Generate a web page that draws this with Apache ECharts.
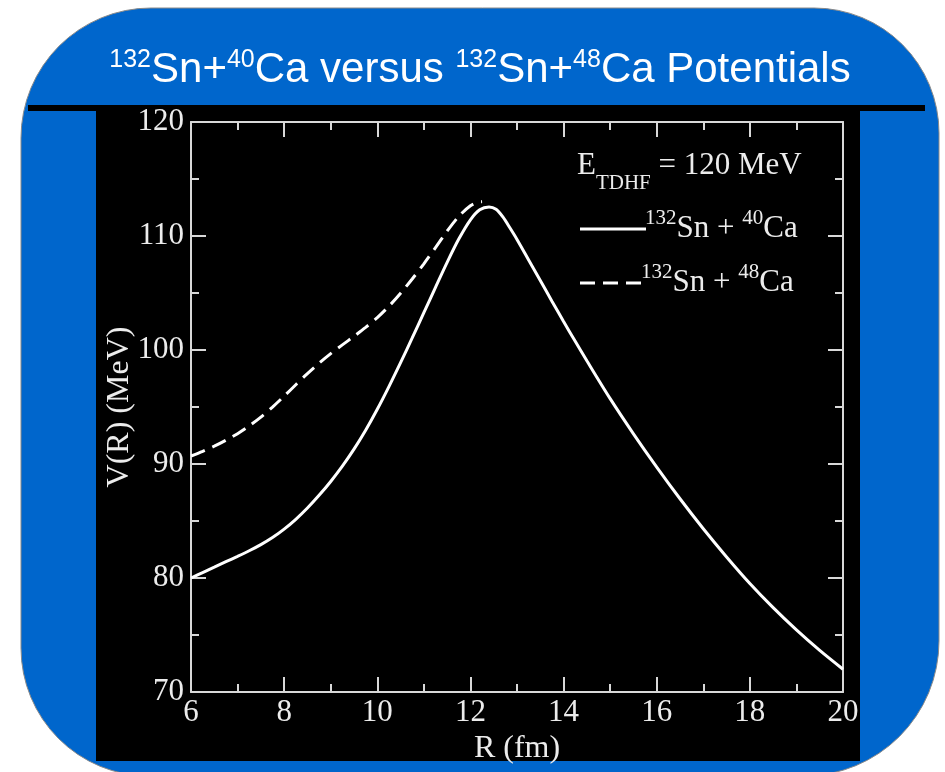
<!DOCTYPE html>
<html>
<head>
<meta charset="utf-8">
<script src="https://cdn.jsdelivr.net/npm/echarts@6/dist/echarts.min.js"></script>
<style>
html,body{margin:0;padding:0;background:#fff;}
#chart{width:945px;height:772px;}
</style>
</head>
<body>
<div id="chart"></div>
<script>
// ---- data ----
const r40 = [6, 6.25, 6.5, 6.75, 7, 7.25, 7.5, 7.75, 8, 8.25, 8.5, 8.75, 9, 9.25, 9.5, 9.75, 10, 10.25, 10.5, 10.75, 11, 11.25, 11.5, 11.75, 12, 12.2, 12.4, 12.55, 12.7, 12.85, 13.0, 13.25, 13.5, 13.75, 14, 14.25, 14.5, 15, 15.5, 16, 16.5, 17, 17.5, 18, 18.5, 19, 19.5, 20];
const v40 = [80.0, 80.48, 80.95, 81.43, 81.9, 82.39, 82.93, 83.55, 84.29, 85.15, 86.14, 87.25, 88.47, 89.81, 91.3, 92.96, 94.8, 96.79, 98.89, 101.06, 103.27, 105.5, 107.69, 109.73, 111.42, 112.3, 112.55, 112.34, 111.65, 110.7, 109.7, 107.9, 106.1, 104.28, 102.5, 100.76, 99.05, 95.73, 92.65, 89.73, 86.95, 84.32, 81.85, 79.52, 77.4, 75.45, 73.65, 72.0];
const r48 = [6, 6.25, 6.5, 6.75, 7, 7.25, 7.5, 7.75, 8, 8.25, 8.5, 8.75, 9, 9.25, 9.5, 9.75, 10, 10.25, 10.5, 10.75, 11, 11.25, 11.5, 11.75, 12, 12.15, 12.25];
const v48 = [90.7, 91.11, 91.56, 92.08, 92.66, 93.34, 94.11, 94.99, 95.95, 96.95, 97.93, 98.84, 99.68, 100.45, 101.2, 101.98, 102.84, 103.84, 104.98, 106.23, 107.56, 108.98, 110.43, 111.73, 112.65, 112.95, 113.0];
const xTicks = [6, 8, 10, 12, 14, 16, 18, 20];
const yTicks = [70, 80, 90, 100, 110, 120];
const seriesNames = ['132Sn + 40Ca', '132Sn + 48Ca'];

const pair = (xs, ys) => xs.map((x, i) => [x, ys[i]]);

const serif = 'Liberation Serif';
const gray = '#d8d8d8';
const txt = '#ececec';

const chart = echarts.init(document.getElementById('chart'), null, {renderer: 'canvas'});

const axisCommon = {
  type: 'value',
  axisLine: {show: true, lineStyle: {color: gray, width: 2}},
  axisTick: {show: true, inside: true, length: 15, lineStyle: {color: gray, width: 2}},
  minorTick: {show: true, length: 8, splitNumber: 2, lineStyle: {color: gray, width: 2}},
  splitLine: {show: false},
};

const option = {
  backgroundColor: '#ffffff',
  animation: false,
  grid: {left: 191, right: 102, top: 122, bottom: 80, containLabel: false},
  xAxis: [
    Object.assign({}, axisCommon, {
      min: xTicks[0], max: xTicks[xTicks.length - 1], interval: 2, position: 'bottom',
      axisLabel: {color: txt, fontFamily: serif, fontSize: 31, margin: 5},
      name: 'R (fm)', nameLocation: 'middle', nameGap: 34,
      nameTextStyle: {color: txt, fontFamily: serif, fontSize: 32}
    }),
    Object.assign({}, axisCommon, {
      min: xTicks[0], max: xTicks[xTicks.length - 1], interval: 2, position: 'top',
      axisLabel: {show: false}
    })
  ],
  yAxis: [
    Object.assign({}, axisCommon, {
      min: yTicks[0], max: yTicks[yTicks.length - 1], interval: 10, position: 'left',
      axisLabel: {color: txt, fontFamily: serif, fontSize: 31, margin: 7},
      name: 'V(R) (MeV)', nameLocation: 'middle', nameGap: 55, nameMoveOverlap: false,
      nameTextStyle: {color: txt, fontFamily: serif, fontSize: 32}
    }),
    Object.assign({}, axisCommon, {
      min: yTicks[0], max: yTicks[yTicks.length - 1], interval: 10, position: 'right',
      axisLabel: {show: false}
    })
  ],
  series: [
    {
      name: seriesNames[0], type: 'line', xAxisIndex: 0, yAxisIndex: 0,
      data: pair(r40, v40), showSymbol: false, smooth: 0.3, z: 5,
      lineStyle: {color: '#ffffff', width: 3}
    },
    {
      name: seriesNames[1], type: 'line', xAxisIndex: 0, yAxisIndex: 0,
      data: pair(r48, v48), showSymbol: false, smooth: 0.3, z: 5,
      lineStyle: {color: '#ffffff', width: 3, type: [15, 8]}
    }
  ],
  graphic: [
    {type: 'rect', z: -20, silent: true,
     shape: {x: 21, y: 8, width: 918, height: 768, r: [130, 125, 135, 128]},
     style: {fill: '#0066cc', stroke: '#8a8a8a', lineWidth: 1}},
    {type: 'rect', z: -19, silent: true,
     shape: {x: 28, y: 105, width: 897, height: 6}, style: {fill: '#000'}},
    {type: 'rect', z: -19, silent: true,
     shape: {x: 96, y: 105, width: 764, height: 656}, style: {fill: '#000'}},
    {type: 'text', z: 10, silent: true, x: 480, y: 68,
     style: {
       text: '{s|132}{m|Sn+}{s|40}{m|Ca versus }{s|132}{m|Sn+}{s|48}{m|Ca Potentials}',
       align: 'center', verticalAlign: 'middle',
       rich: {
         m: {fontSize: 42, fontFamily: 'Liberation Sans', fill: '#fff', verticalAlign: 'bottom', lineHeight: 46},
         s: {fontSize: 25, fontFamily: 'Liberation Sans', fill: '#fff', verticalAlign: 'bottom', lineHeight: 26, padding: [0, 0, 18, 0]}
       }
     }},
    {type: 'text', z: 10, silent: true, x: 577, y: 178,
     style: {
       text: '{m|E}{b|TDHF}{m| = 120 MeV}',
       align: 'left', verticalAlign: 'middle',
       rich: {
         m: {fontSize: 31, fontFamily: serif, fill: txt, verticalAlign: 'bottom', lineHeight: 32, padding: [0, 0, 13, 0]},
         b: {fontSize: 21, fontFamily: serif, fill: txt, verticalAlign: 'bottom', lineHeight: 22, padding: [0, 0, 0, 0]}
       }
     }},
    {type: 'line', z: 10, silent: true, shape: {x1: 580, y1: 229, x2: 646, y2: 229},
     style: {stroke: '#fff', lineWidth: 3}},
    {type: 'text', z: 10, silent: true, x: 645, y: 228,
     style: {
       text: '{s|132}{m|Sn + }{s|40}{m|Ca}',
       align: 'left', verticalAlign: 'middle',
       rich: {
         m: {fontSize: 31, fontFamily: serif, fill: txt, verticalAlign: 'bottom', lineHeight: 32},
         s: {fontSize: 21, fontFamily: serif, fill: txt, verticalAlign: 'bottom', lineHeight: 22, padding: [0, 0, 15, 0]}
       }
     }},
    {type: 'line', z: 10, silent: true, shape: {x1: 580, y1: 283, x2: 642, y2: 283},
     style: {stroke: '#fff', lineWidth: 3, lineDash: [15, 8]}},
    {type: 'text', z: 10, silent: true, x: 641, y: 282,
     style: {
       text: '{s|132}{m|Sn + }{s|48}{m|Ca}',
       align: 'left', verticalAlign: 'middle',
       rich: {
         m: {fontSize: 31, fontFamily: serif, fill: txt, verticalAlign: 'bottom', lineHeight: 32},
         s: {fontSize: 21, fontFamily: serif, fill: txt, verticalAlign: 'bottom', lineHeight: 22, padding: [0, 0, 15, 0]}
       }
     }}
  ]
};
chart.setOption(option);
</script>
</body>
</html>
